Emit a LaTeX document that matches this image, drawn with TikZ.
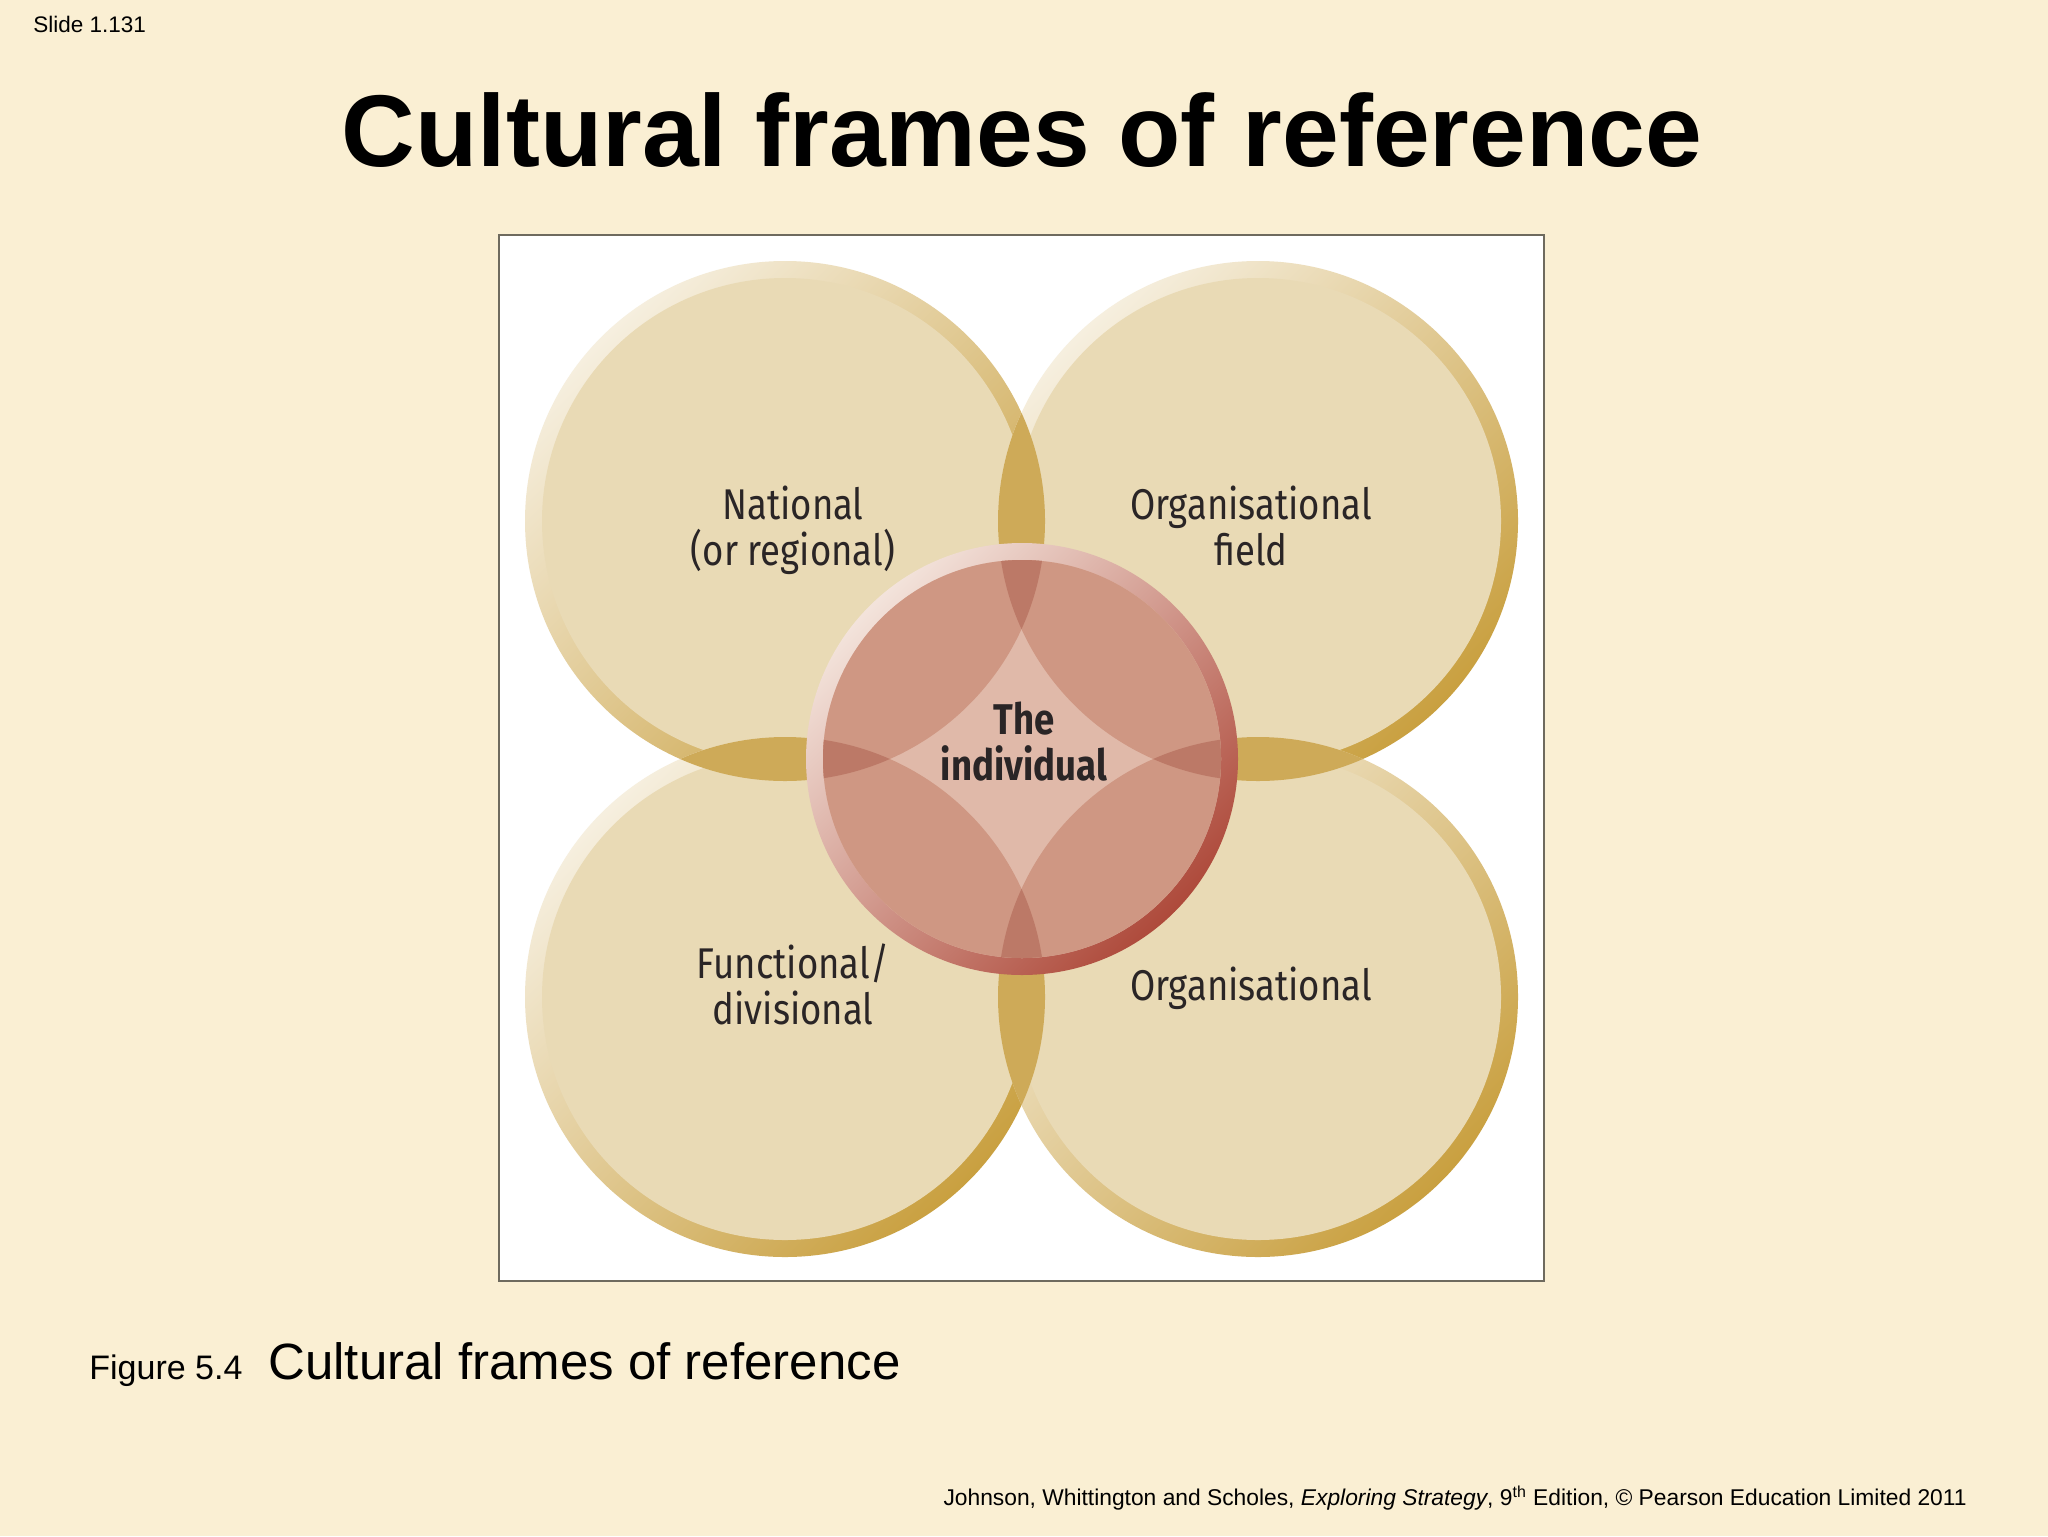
\documentclass[tikz,border=0pt]{standalone}
\usepackage{fontspec}
\setmainfont{Liberation Sans}
\newfontfamily\dinfont[FakeStretch=0.85]{Fira Sans}
\definecolor{slidebg}{HTML}{FAEFD3}
\definecolor{boxgray}{HTML}{6E6A5E}
\definecolor{beige}{HTML}{E9DAB5}
\definecolor{gold}{HTML}{CEAA58}
\definecolor{rimlight}{HTML}{F6EFDF}
\definecolor{rimmid}{HTML}{E2CFA0}
\definecolor{rimgold}{HTML}{C9A040}
\definecolor{redlight}{HTML}{E0B9A9}
\definecolor{redmid}{HTML}{CF9783}
\definecolor{reddark}{HTML}{BC7967}
\definecolor{redrimlight}{HTML}{F3E3DB}
\definecolor{redrimmid}{HTML}{D5998A}
\definecolor{redrimdark}{HTML}{AE4A3B}
\definecolor{labeltext}{HTML}{2A2526}
\tikzset{
  rimring/.style={top color=rimlight, middle color=rimmid, bottom color=rimgold, shading angle=45},
  redring/.style={top color=redrimlight, middle color=redrimmid, bottom color=redrimdark, shading angle=45},
  lbl/.style={font=\dinfont\fontsize{21.5pt}{23pt}\selectfont, text=labeltext, align=center, anchor=base, inner sep=0pt},
  lblb/.style={lbl, font=\dinfont\bfseries\fontsize{21.5pt}{23pt}\selectfont},
}
\begin{document}
\begin{tikzpicture}[x=0.5pt,y=-0.5pt]
\useasboundingbox (0,0) rectangle (2048,1536);
\fill[slidebg] (0,0) rectangle (2048,1536);
% texts of the slide
\node[anchor=base west, inner sep=0pt, font=\fontsize{11.25pt}{13pt}\selectfont] (slideno) at (33,33) {Slide 1.131};
\node[anchor=base, inner sep=0pt, font=\bfseries\fontsize{51pt}{60pt}\selectfont] (title) at (1022,166) {Cultural frames of reference};
\node[anchor=base west, inner sep=0pt, font=\fontsize{17pt}{20pt}\selectfont] (fig) at (89,1379) {Figure 5.4};
\node[anchor=base west, inner sep=0pt, font=\fontsize{25.5pt}{30pt}\selectfont] (caption) at (268,1379) {Cultural frames of reference};
\node[anchor=base east, inner sep=0pt, font=\fontsize{11.4pt}{13pt}\selectfont] (footer) at (1967,1505) {Johnson, Whittington and Scholes, \textit{Exploring Strategy}, 9\textsuperscript{th} Edition, \textcopyright{} Pearson Education Limited 2011};
% figure frame
\draw[boxgray, line width=1pt, fill=white] (499,235) rectangle (1544,1281);
% beige circles
\shade[rimring] (785,521) circle (130pt);
\fill[beige] (785,521) circle (121.5pt);
\shade[rimring] (1258,521) circle (130pt);
\fill[beige] (1258,521) circle (121.5pt);
\shade[rimring] (785,997) circle (130pt);
\fill[beige] (785,997) circle (121.5pt);
\shade[rimring] (1258,997) circle (130pt);
\fill[beige] (1258,997) circle (121.5pt);
\begin{scope}\clip (785,521) circle (130pt); \fill[gold] (1258,521) circle (130pt); \fill[gold] (785,997) circle (130pt);\end{scope}
\begin{scope}\clip (1258,997) circle (130pt); \fill[gold] (1258,521) circle (130pt); \fill[gold] (785,997) circle (130pt);\end{scope}
% the individual
\shade[redring] (1022,759) circle (108pt);
\begin{scope}
  \clip (1022,759) circle (99.5pt);
  \fill[redlight] (1022,759) circle (100pt);
  \fill[redmid] (785,521) circle (130pt);
  \fill[redmid] (1258,521) circle (130pt);
  \fill[redmid] (785,997) circle (130pt);
  \fill[redmid] (1258,997) circle (130pt);
  \begin{scope}\clip (785,521) circle (130pt); \fill[reddark] (1258,521) circle (130pt); \fill[reddark] (785,997) circle (130pt);\end{scope}
  \begin{scope}\clip (1258,997) circle (130pt); \fill[reddark] (1258,521) circle (130pt); \fill[reddark] (785,997) circle (130pt);\end{scope}
\end{scope}
% labels (base = baseline of the last line)
\node[lbl] (national) at (793,565) {National\\(or regional)};
\node[lbl] (orgfield) at (1251,565) {Organisational\\field};
\node[lbl] (functional) at (793,1024) {Functional/\\divisional};
\node[lbl] (org) at (1251,1000) {Organisational};
\node[lblb] (individual) at (1024,780) {The\\individual};
\end{tikzpicture}
\end{document}
